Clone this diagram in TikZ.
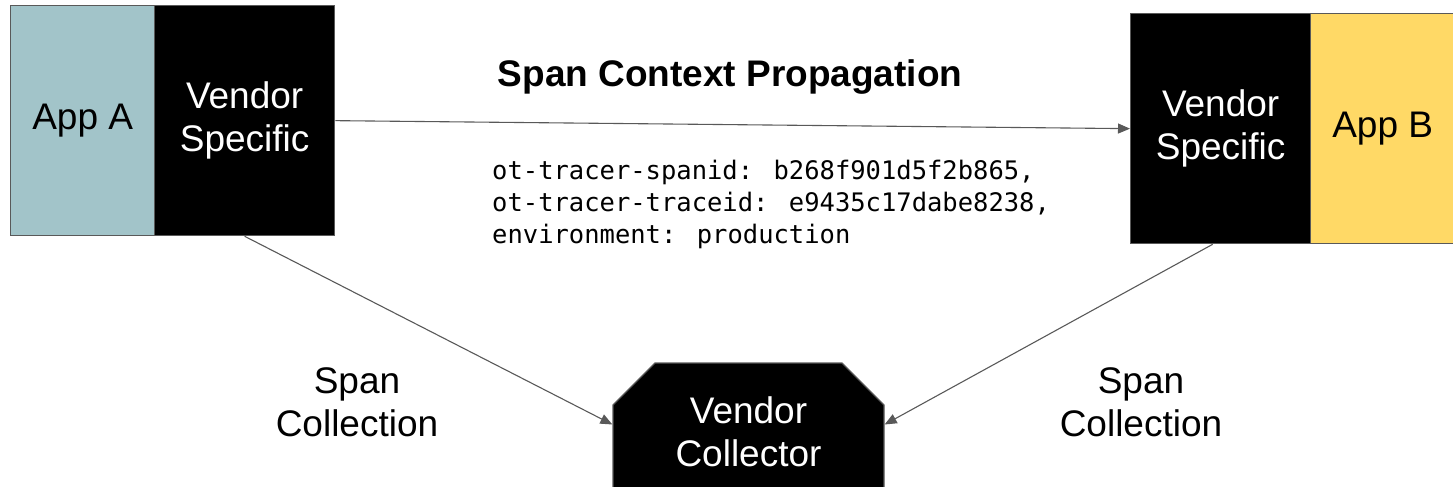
\documentclass[tikz,border=0pt]{standalone}
\usepackage{fontspec}
\setmainfont{Liberation Sans}
\newfontfamily\codefont{DejaVu Sans Mono}
\usetikzlibrary{arrows.meta,shapes.misc}

\definecolor{lineGray}{HTML}{595959}
\definecolor{appBlue}{HTML}{A2C4C9}
\definecolor{appYellow}{HTML}{FFD966}

\tikzset{
	box/.style={draw=lineGray, line width=1.3pt, anchor=north west, minimum height=230pt, align=center, inner sep=0pt,
		font=\fontsize{37}{43}\selectfont},
	vendbox/.style={box, fill=black, text=white, minimum width=180pt},
	link/.style={draw=lineGray, line width=1.1pt, -{Triangle[length=12pt,width=10pt]}},
	lbl/.style={align=center, font=\fontsize{37}{43}\selectfont},
}

\begin{document}
\begin{tikzpicture}[x=1pt, y=-1pt]
	\useasboundingbox (0,0) rectangle (1453,487);
	
	% sender side
	\node[box, fill=appBlue, minimum width=144pt] (appA) at (10,5) {App A};
	\node[vendbox] (vendA) at (154,5) {Vendor\\Specific};
	
	% receiver side
	\node[vendbox] (vendB) at (1130,13) {Vendor\\Specific};
	\node[box, fill=appYellow, minimum width=180pt] (appB) at (1310,13) {\hspace*{-36pt}App B};
	
	% collector
	\node[chamfered rectangle, chamfered rectangle corners={north west, north east},
		chamfered rectangle xsep=22pt, chamfered rectangle ysep=20pt,
		draw=lineGray, line width=1.3pt, fill=black, text=white, inner sep=0pt,
		minimum width=271pt, minimum height=137pt, align=center,
		font=\fontsize{37}{43}\selectfont] (coll) at (748.5,431.5) {Vendor\\Collector};
	
	\node[font=\fontsize{37}{44}\selectfont\bfseries] (title) at (730,77) {Span Context Propagation};
	\node[anchor=north west, align=left, inner sep=0pt, font=\codefont\fontsize{25.5}{32}\selectfont] (ctx) at (492,160)
		{ot-tracer-spanid: b268f901d5f2b865,\\ot-tracer-traceid: e9435c17dabe8238,\\environment: production};
	
	\node[lbl] (spanL) at (357,402) {Span\\Collection};
	\node[lbl] (spanR) at (1141,402) {Span\\Collection};
	
	\draw[link] (vendA.east) -- (vendB.west);
	\draw[link] (vendA.south) -- ([yshift=7pt]coll.west);
	\draw[link] ([xshift=-8pt]vendB.south) -- ([yshift=7pt]coll.east);
\end{tikzpicture}
\end{document}
